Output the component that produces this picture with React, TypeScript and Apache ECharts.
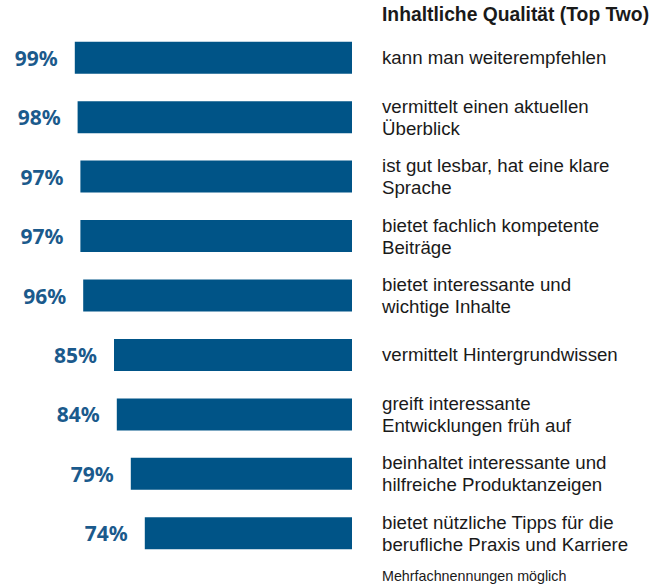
import React, { useEffect, useRef } from "react";
import * as echarts from "echarts";

const categories = [
  "kann man weiterempfehlen",
  "vermittelt einen aktuellen\nÜberblick",
  "ist gut lesbar, hat eine klare\nSprache",
  "bietet fachlich kompetente\nBeiträge",
  "bietet interessante und\nwichtige Inhalte",
  "vermittelt Hintergrundwissen",
  "greift interessante\nEntwicklungen früh auf",
  "beinhaltet interessante und\nhilfreiche Produktanzeigen",
  "bietet nützliche Tipps für die\nberufliche Praxis und Karriere",
];
const values = [99, 98, 97, 97, 96, 85, 84, 79, 74];
const title = "Inhaltliche Qualität (Top Two)";
const footnote = "Mehrfachnennungen möglich";

const FONT = "'Liberation Sans', sans-serif";
const LFONT = "'Noto Sans', sans-serif";

export default function App() {
  const ref = useRef<HTMLDivElement>(null);
  useEffect(() => {
    document.body.style.margin = "0";
    const chart = echarts.init(ref.current!, null, { renderer: "svg" });
    chart.setOption({
      animation: false,
      backgroundColor: "#ffffff",
      textStyle: { fontFamily: FONT },
      graphic: [
        {
          type: "text",
          left: 382,
          top: 5,
          style: { text: title, font: `bold 19.3px ${FONT}`, fill: "#1a1a1a" },
        },
        {
          type: "text",
          left: 382,
          top: 569,
          style: { text: footnote, font: `14.3px ${FONT}`, fill: "#1a1a1a" },
        },
      ],
      grid: { left: 72, right: 301, top: 28, bottom: 24, containLabel: false },
      xAxis: {
        type: "value",
        min: 0,
        max: 100,
        inverse: true,
        show: false,
      },
      yAxis: {
        type: "category",
        data: categories,
        inverse: true,
        position: "right",
        axisLine: { show: false },
        axisTick: { show: false },
        splitLine: { show: false },
        axisLabel: {
          align: "left",
          margin: 30,
          fontSize: 18.7,
          lineHeight: 22,
          color: "#1a1a1a",
          fontFamily: FONT,
        },
      },
      series: [
        {
          type: "bar",
          data: values,
          barWidth: 32,
          itemStyle: { color: "#005487" },
          label: {
            show: true,
            position: "left",
            distance: 17,
            formatter: "{c}%",
            fontSize: 21,
            fontWeight: "bold",
            color: "#1b5a8c",
            fontFamily: LFONT,
          },
        },
      ],
    });
    return () => chart.dispose();
  }, []);
  return <div ref={ref} style={{ width: 653, height: 587 }} />;
}
